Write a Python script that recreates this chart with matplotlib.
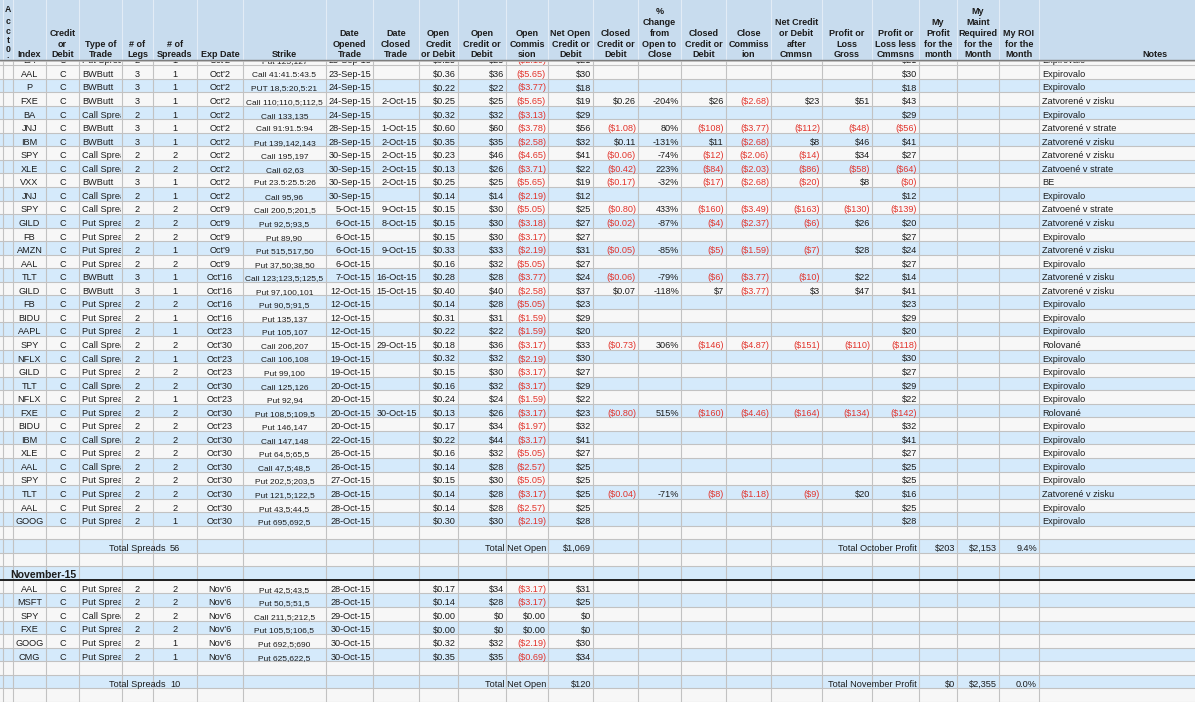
import matplotlib.pyplot as plt
from matplotlib.patches import Rectangle

plt.rcParams['font.family'] = ['Liberation Sans', 'DejaVu Sans']

# ---- table data ----
oct_index = ['AAL', 'P', 'FXE', 'BA', 'JNJ', 'IBM', 'SPY', 'XLE', 'VXX', 'JNJ',
             'SPY', 'GILD', 'FB', 'AMZN', 'AAL', 'TLT', 'GILD', 'FB', 'BIDU', 'AAPL',
             'SPY', 'NFLX', 'GILD', 'TLT', 'NFLX', 'FXE', 'BIDU', 'IBM', 'XLE', 'AAL',
             'SPY', 'TLT', 'AAL', 'GOOG']
oct_type = ['BWButt', 'BWButt', 'BWButt', 'Call Spread', 'BWButt', 'BWButt', 'Call Spread',
            'Call Spread', 'BWButt', 'Call Spread', 'Call Spread', 'Put Spread', 'Put Spread',
            'Put Spread', 'Put Spread', 'BWButt', 'BWButt', 'Put Spread', 'Put Spread',
            'Put Spread', 'Call Spread', 'Call Spread', 'Put Spread', 'Call Spread',
            'Put Spread', 'Put Spread', 'Put Spread', 'Call Spread', 'Put Spread',
            'Call Spread', 'Put Spread', 'Put Spread', 'Put Spread', 'Put Spread']
oct_legs = [3, 3, 3, 2, 3, 3, 2, 2, 3, 2, 2, 2, 2, 2, 2, 3, 3, 2, 2, 2,
            2, 2, 2, 2, 2, 2, 2, 2, 2, 2, 2, 2, 2, 2]
oct_spreads = [1, 1, 1, 1, 1, 1, 2, 2, 1, 1, 2, 2, 2, 1, 2, 1, 1, 2, 1, 1,
               2, 1, 2, 2, 1, 2, 2, 2, 2, 2, 2, 2, 2, 1]
oct_exp = ["Oct'2"] * 10 + ["Oct'9"] * 5 + ["Oct'16"] * 4 + [
    "Oct'23", "Oct'30", "Oct'23", "Oct'23", "Oct'30", "Oct'23", "Oct'30", "Oct'23",
    "Oct'30", "Oct'30", "Oct'30", "Oct'30", "Oct'30", "Oct'30", "Oct'30"]
oct_strike = ['Call 41:41.5:43.5', 'PUT 18,5:20,5:21', 'Call 110;110,5;112,5', 'Call 133,135',
              'Call 91:91.5:94', 'Put 139,142,143', 'Call 195,197', 'Call 62,63',
              'Put 23.5:25.5:26', 'Call 95,96', 'Call 200,5;201,5', 'Put 92,5;93,5',
              'Put 89,90', 'Put 515,517,50', 'Put 37,50;38,50', 'Call 123;123,5;125,5',
              'Put 97,100,101', 'Put 90,5;91,5', 'Put 135,137', 'Put 105,107',
              'Call 206,207', 'Call 106,108', 'Put 99,100', 'Call 125,126', 'Put 92,94',
              'Put 108,5;109,5', 'Put 146,147', 'Call 147,148', 'Put 64,5;65,5',
              'Call 47,5;48,5', 'Put 202,5;203,5', 'Put 121,5;122,5', 'Put 43,5;44,5',
              'Put 695,692,5']
oct_opened = ['23-Sep-15', '24-Sep-15', '24-Sep-15', '24-Sep-15', '28-Sep-15', '28-Sep-15',
              '30-Sep-15', '30-Sep-15', '30-Sep-15', '30-Sep-15', '5-Oct-15', '6-Oct-15',
              '6-Oct-15', '6-Oct-15', '6-Oct-15', '7-Oct-15', '12-Oct-15', '12-Oct-15',
              '12-Oct-15', '12-Oct-15', '15-Oct-15', '19-Oct-15', '19-Oct-15', '20-Oct-15',
              '20-Oct-15', '20-Oct-15', '20-Oct-15', '22-Oct-15', '26-Oct-15', '26-Oct-15',
              '27-Oct-15', '28-Oct-15', '28-Oct-15', '28-Oct-15']
oct_closed = ['', '', '2-Oct-15', '', '1-Oct-15', '2-Oct-15', '2-Oct-15', '2-Oct-15',
              '2-Oct-15', '', '9-Oct-15', '8-Oct-15', '', '9-Oct-15', '', '16-Oct-15',
              '15-Oct-15', '', '', '', '29-Oct-15', '', '', '', '', '30-Oct-15',
              '', '', '', '', '', '', '', '']
oct_open_px = ['$0.36', '$0.22', '$0.25', '$0.32', '$0.60', '$0.35', '$0.23', '$0.13',
               '$0.25', '$0.14', '$0.15', '$0.15', '$0.15', '$0.33', '$0.16', '$0.28',
               '$0.40', '$0.14', '$0.31', '$0.22', '$0.18', '$0.32', '$0.15', '$0.16',
               '$0.24', '$0.13', '$0.17', '$0.22', '$0.16', '$0.14', '$0.15', '$0.14',
               '$0.14', '$0.30']
oct_open_amt = ['$36', '$22', '$25', '$32', '$60', '$35', '$46', '$26', '$25', '$14',
                '$30', '$30', '$30', '$33', '$32', '$28', '$40', '$28', '$31', '$22',
                '$36', '$32', '$30', '$32', '$24', '$26', '$34', '$44', '$32', '$28',
                '$30', '$28', '$28', '$30']
oct_open_comm = ['($5.65)', '($3.77)', '($5.65)', '($3.13)', '($3.78)', '($2.58)', '($4.65)',
                 '($3.71)', '($5.65)', '($2.19)', '($5.05)', '($3.18)', '($3.17)', '($2.19)',
                 '($5.05)', '($3.77)', '($2.58)', '($5.05)', '($1.59)', '($1.59)', '($3.17)',
                 '($2.19)', '($3.17)', '($3.17)', '($1.59)', '($3.17)', '($1.97)', '($3.17)',
                 '($5.05)', '($2.57)', '($5.05)', '($3.17)', '($2.57)', '($2.19)']
oct_net_open = ['$30', '$18', '$19', '$29', '$56', '$32', '$41', '$22', '$19', '$12',
                '$25', '$27', '$27', '$31', '$27', '$24', '$37', '$23', '$29', '$20',
                '$33', '$30', '$27', '$29', '$22', '$23', '$32', '$41', '$27', '$25',
                '$25', '$25', '$25', '$28']

# rows that were closed, and their closing columns
closed_rows = [2, 4, 5, 6, 7, 8, 10, 11, 13, 15, 16, 20, 25, 31]
close_px = ['$0.26', '($1.08)', '$0.11', '($0.06)', '($0.42)', '($0.17)', '($0.80)',
            '($0.02)', '($0.05)', '($0.06)', '$0.07', '($0.73)', '($0.80)', '($0.04)']
close_pct = ['-204%', '80%', '-131%', '-74%', '223%', '-32%', '433%', '-87%', '-85%',
             '-79%', '-118%', '306%', '515%', '-71%']
close_amt = ['$26', '($108)', '$11', '($12)', '($84)', '($17)', '($160)', '($4)', '($5)',
             '($6)', '$7', '($146)', '($160)', '($8)']
close_comm = ['($2.68)', '($3.77)', '($2.68)', '($2.06)', '($2.03)', '($2.68)', '($3.49)',
              '($2.37)', '($1.59)', '($3.77)', '($3.77)', '($4.87)', '($4.46)', '($1.18)']
close_net = ['$23', '($112)', '$8', '($14)', '($86)', '($20)', '($163)', '($6)', '($7)',
             '($10)', '$3', '($151)', '($164)', '($9)']
pl_gross = ['$51', '($48)', '$46', '$34', '($58)', '$8', '($130)', '$26', '$28', '$22',
            '$47', '($110)', '($134)', '$20']

oct_pl_net = ['$30', '$18', '$43', '$29', '($56)', '$41', '$27', '($64)', '($0)', '$12',
              '($139)', '$20', '$27', '$24', '$27', '$14', '$41', '$23', '$29', '$20',
              '($118)', '$30', '$27', '$29', '$22', '($142)', '$32', '$41', '$27', '$25',
              '$25', '$16', '$25', '$28']
EXP, ZZ, ZS = 'Expirovalo', 'Zatvorené v zisku', 'Zatvorené v strate'
oct_notes = [EXP, EXP, ZZ, EXP, ZS, ZZ, ZZ, 'Zatvoené v strate', 'BE', EXP,
             'Zatvoené v strate', ZZ, EXP, ZZ, EXP, ZZ, ZZ, EXP, EXP, EXP,
             'Rolované', EXP, EXP, EXP, EXP, 'Rolované', EXP, EXP, EXP, EXP,
             EXP, ZZ, EXP, EXP]

nov_index = ['AAL', 'MSFT', 'SPY', 'FXE', 'GOOG', 'CMG']
nov_type = ['Put Spread', 'Put Spread', 'Call Spread', 'Put Spread', 'Put Spread', 'Put Spread']
nov_legs = [2, 2, 2, 2, 2, 2]
nov_spreads = [2, 2, 2, 2, 1, 1]
nov_exp = ["Nov'6"] * 6
nov_strike = ['Put 42,5;43,5', 'Put 50,5;51,5', 'Call 211,5;212,5', 'Put 105,5;106,5',
              'Put 692,5;690', 'Put 625,622,5']
nov_opened = ['28-Oct-15', '28-Oct-15', '29-Oct-15', '30-Oct-15', '30-Oct-15', '30-Oct-15']
nov_open_px = ['$0.17', '$0.14', '$0.00', '$0.00', '$0.32', '$0.35']
nov_open_amt = ['$34', '$28', '$0', '$0', '$32', '$35']
nov_open_comm = ['($3.17)', '($3.17)', '$0.00', '$0.00', '($2.19)', '($0.69)']
nov_net_open = ['$31', '$25', '$0', '$0', '$30', '$34']

# the half hidden row under the frozen header
top_row = ['BA', 'C', 'Put Spread', '2', '1', "Oct'2", 'Put 125,127', '25-Sep-15', '',
           '$0.25', '$25', '($2.19)', '$21', '$21', 'Expirovalo']

totals_oct = ['56', '$1,069', '$203', '$2,153', '9.4%']
totals_nov = ['10', '$120', '$0', '$2,355', '0.0%']

headers = {
    'index': ['Index'], 'cd': ['Credit', 'or', 'Debit'], 'type': ['Type of', 'Trade'],
    'legs': ['# of', 'Legs'], 'spreads': ['# of', 'Spreads'], 'exp': ['Exp Date'],
    'strike': ['Strike'], 'opened': ['Date', 'Opened', 'Trade'],
    'closed': ['Date', 'Closed', 'Trade'], 'open_px': ['Open', 'Credit', 'or Debit'],
    'open_amt': ['Open', 'Credit or', 'Debit'], 'open_comm': ['Open', 'Commis', 'sion'],
    'net_open': ['Net Open', 'Credit or', 'Debit'], 'close_px': ['Closed', 'Credit or', 'Debit'],
    'pct': ['%', 'Change', 'from', 'Open to', 'Close'],
    'close_amt': ['Closed', 'Credit or', 'Debit'], 'close_comm': ['Close', 'Commiss', 'ion'],
    'net_close': ['Net Credit', 'or Debit', 'after', 'Cmmsn'],
    'pl_gross': ['Profit or', 'Loss', 'Gross'], 'pl_net': ['Profit or', 'Loss less', 'Cmmsns'],
    'my_profit': ['My', 'Profit', 'for the', 'month'],
    'my_maint': ['My', 'Maint', 'Required', 'for the', 'Month'],
    'my_roi': ['My ROI', 'for the', 'Month'], 'notes': ['Notes'],
}

# ---- layout ----
cols = ['gut', 'acct', 'index', 'cd', 'type', 'legs', 'spreads', 'exp', 'strike', 'opened',
        'closed', 'open_px', 'open_amt', 'open_comm', 'net_open', 'close_px', 'pct',
        'close_amt', 'close_comm', 'net_close', 'pl_gross', 'pl_net', 'my_profit',
        'my_maint', 'my_roi', 'notes']
edges = [0, 3, 13, 46, 79, 122, 153, 197, 243, 326, 373, 419, 458, 506, 548, 593, 638,
         681, 726, 771, 822, 872, 919, 957, 999, 1039, 1271]
align = {'index': 'center', 'cd': 'center', 'type': 'left', 'legs': 'center',
         'spreads': 'center', 'exp': 'center', 'strike': 'center', 'notes': 'left'}

W, H = 1195, 702
ROW0, ROW_H = 65.0, 13.55
HEAD_B = 59.5
FS = 6.6
BLUE, WHITE, HEAD = '#d5eafb', '#f7f7f7', '#c8dcee'
GRID, RED, INK = '#c2c2c2', '#e2342c', '#1c1c1c'

fig = plt.figure(figsize=(W / 100, H / 100), dpi=100)
ax = fig.add_axes([0, 0, 1, 1])
ax.set_xlim(0, W)
ax.set_ylim(H, 0)
ax.axis('off')


def row_top(r):
    return ROW0 + r * ROW_H


def put(col, r, s, ha=None, bold=False, size=FS, clip=False, z=2):
    if s == '':
        return
    i = cols.index(col)
    x0, x1 = edges[i], edges[i + 1]
    ha = ha or align.get(col, 'right')
    if ha == 'left':
        x = x0 + 3
    elif ha == 'right':
        x = x1 - 2
    else:
        x = (x0 + x1) / 2
    color = RED if s.startswith('(') else INK
    t = ax.text(x, row_top(r) + ROW_H - 1.6, s, ha=ha, va='baseline', fontsize=size,
                color=color, fontweight='bold' if bold else 'normal', zorder=z)
    if clip:
        t.set_clip_on(True)
        t.set_clip_path(Rectangle((x0, row_top(r)), x1 - x0 - 0.5, ROW_H,
                                  transform=ax.transData))


# row stripes
ax.add_patch(Rectangle((0, row_top(-1)), W, ROW_H, color=WHITE, lw=0, zorder=0))
for r in range(47):
    ax.add_patch(Rectangle((0, row_top(r)), W, ROW_H, color=BLUE if r % 2 else WHITE,
                           lw=0, zorder=0))

# grid
for r in range(48):
    ax.plot([0, W], [row_top(r)] * 2, color=GRID, lw=0.8, zorder=1)
for x in edges[1:-1]:
    ax.plot([x, x], [HEAD_B, H], color=GRID, lw=0.8, zorder=1)

# half hidden row
for col, s in zip(['index', 'cd', 'type', 'legs', 'spreads', 'exp', 'strike', 'opened',
                   'closed', 'open_px', 'open_amt', 'open_comm', 'net_open', 'pl_net', 'notes'],
                  top_row):
    put(col, -1, s, size=6.0 if col == 'strike' else FS, clip=(col == 'type'))

# October rows
for r in range(len(oct_index)):
    put('index', r, oct_index[r])
    put('cd', r, 'C')
    put('type', r, oct_type[r], clip=True)
    put('legs', r, str(oct_legs[r]))
    put('spreads', r, str(oct_spreads[r]))
    put('exp', r, oct_exp[r])
    put('strike', r, oct_strike[r], size=6.0)
    put('opened', r, oct_opened[r])
    put('closed', r, oct_closed[r])
    put('open_px', r, oct_open_px[r])
    put('open_amt', r, oct_open_amt[r])
    put('open_comm', r, oct_open_comm[r])
    put('net_open', r, oct_net_open[r])
    put('pl_net', r, oct_pl_net[r])
    put('notes', r, oct_notes[r])

for k, r in enumerate(closed_rows):
    put('close_px', r, close_px[k])
    put('pct', r, close_pct[k])
    put('close_amt', r, close_amt[k])
    put('close_comm', r, close_comm[k])
    put('net_close', r, close_net[k])
    put('pl_gross', r, pl_gross[k])


def totals(r, vals, month):
    put('legs', r, 'Total Spreads')
    put('spreads', r, vals[0])
    put('open_comm', r, 'Total Net Open')
    put('net_open', r, vals[1])
    put('pl_net', r, 'Total %s Profit' % month)
    put('my_profit', r, vals[2])
    put('my_maint', r, vals[3])
    put('my_roi', r, vals[4])


totals(35, totals_oct, 'October')

# November block
ax.text(10, row_top(37) + ROW_H - 1.8, 'November-15', fontsize=7.6, fontweight='bold',
        color=INK, va='baseline', zorder=2)
ax.plot([0, W], [row_top(38)] * 2, color='#111111', lw=1.3, zorder=2)
for k in range(len(nov_index)):
    r = 38 + k
    put('index', r, nov_index[k])
    put('cd', r, 'C')
    put('type', r, nov_type[k], clip=True)
    put('legs', r, str(nov_legs[k]))
    put('spreads', r, str(nov_spreads[k]))
    put('exp', r, nov_exp[k])
    put('strike', r, nov_strike[k], size=6.0)
    put('opened', r, nov_opened[k])
    put('open_px', r, nov_open_px[k])
    put('open_amt', r, nov_open_amt[k])
    put('open_comm', r, nov_open_comm[k])
    put('net_open', r, nov_net_open[k])
totals(45, totals_nov, 'November')

# frozen header on top
ax.add_patch(Rectangle((0, 0), W, HEAD_B, color=HEAD, lw=0, zorder=3))
for x in edges[1:-1]:
    ax.plot([x, x], [0, HEAD_B], color='#e2ecf6', lw=0.8, zorder=3)
ax.plot([0, W], [HEAD_B, HEAD_B], color='#7d7d7d', lw=1.0, zorder=4)
ax.plot([0, W], [HEAD_B + 1.1, HEAD_B + 1.1], color='#b8b8b8', lw=0.6, zorder=4)
for col, lines in headers.items():
    i = cols.index(col)
    xc = (edges[i] + edges[i + 1]) / 2
    n = len(lines)
    for j, s in enumerate(lines):
        ax.text(xc, 57.3 - (n - 1 - j) * 10.7, s, ha='center', va='baseline',
                fontsize=6.5, fontweight='bold', color=INK, zorder=5)
for s, yb in zip('Acct0.', [12, 24, 33.5, 43, 52.5, 58]):
    ax.text(8, yb, s, ha='center', va='baseline', fontsize=6.3, fontweight='bold',
            color=INK, zorder=5)

fig.savefig('out.png', dpi=100)
